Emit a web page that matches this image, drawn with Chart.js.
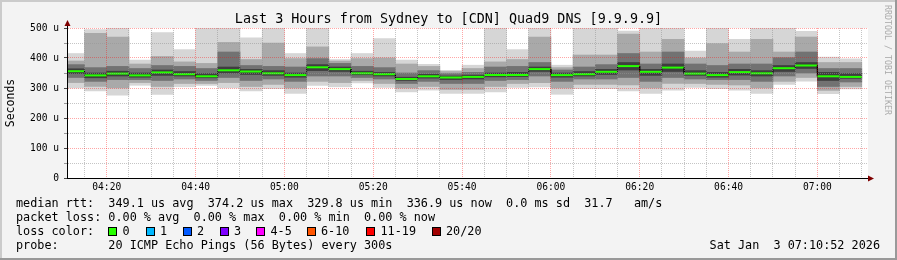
<!DOCTYPE html>
<html>
<head>
<meta charset="utf-8">
<title>Last 3 Hours from Sydney to [CDN] Quad9 DNS [9.9.9.9]</title>
<script src="https://cdn.jsdelivr.net/npm/chart.js@4.4.1/dist/chart.umd.min.js"></script>
<style>
  html, body { margin: 0; padding: 0; background: #f3f3f3; }
  #wrap { position: relative; width: 897px; height: 260px; overflow: hidden; }
  #chart { position: absolute; left: 0; top: 0; }
  .txt { position: absolute; font-family: 'DejaVu Sans Mono', monospace; color: #000; white-space: pre; }
  #title { left: 0; width: 897px; text-align: center; top: 12px; font-size: 13.4px; line-height: 14px; }
  #stats { left: 16px; top: 196px; font-size: 11.8px; line-height: 14px; }
  #stamp { right: 17px; top: 238px; font-size: 11.8px; line-height: 14px; }
  .loss { position: absolute; top: 224px; font-family: 'DejaVu Sans Mono', monospace; font-size: 11.8px; line-height: 14px; white-space: pre; }
  .loss i { display: inline-block; width: 7px; height: 7px; border: 1px solid #000; margin-right: 5.5px; vertical-align: -1px; }
  #mark { left: 892px; top: 5px; font-size: 8.3px; line-height: 9px; color: #ababab; transform-origin: 0 0; transform: rotate(90deg); }
</style>
</head>
<body>
<div id="wrap">
  <canvas id="chart" width="897" height="260"></canvas>
  <div class="txt" id="title">Last 3 Hours from Sydney to [CDN] Quad9 DNS [9.9.9.9]</div>
  <div class="txt" id="stats">median rtt:  349.1 us avg  374.2 us max  329.8 us min  336.9 us now  0.0 ms sd  31.7   am/s
packet loss: 0.00 % avg  0.00 % max  0.00 % min  0.00 % now
loss color:
probe:       20 ICMP Echo Pings (56 Bytes) every 300s</div>
  <div class="txt" id="stamp">Sat Jan  3 07:10:52 2026</div>
  <div class="txt" id="mark">RRDTOOL / TOBI OETIKER</div>
</div>
<script>
// 5-minute slots (start time of each step)
const slots = ['04:10', '04:15', '04:20', '04:25', '04:30', '04:35', '04:40', '04:45', '04:50', '04:55',
  '05:00', '05:05', '05:10', '05:15', '05:20', '05:25', '05:30', '05:35', '05:40', '05:45', '05:50', '05:55',
  '06:00', '06:05', '06:10', '06:15', '06:20', '06:25', '06:30', '06:35', '06:40', '06:45', '06:50', '06:55',
  '07:00', '07:05'];

// rtt in microseconds
const rttMin = [300, 290, 276, 309, 279, 304, 309, 300, 290, 298, 282, 309, 304, 317, 302, 287, 293, 282,
  282, 287, 302, 304, 279, 298, 298, 290, 282, 293, 302, 298, 293, 282, 312, 323, 281, 297];
const rttP10 = [318, 305, 300, 318, 305, 315, 315, 318, 305, 312, 300, 322, 318, 325, 315, 300, 305, 295,
  295, 305, 315, 318, 300, 312, 312, 310, 300, 315, 315, 312, 310, 300, 322, 335, 292, 305];
const rttP25 = [335, 322, 328, 328, 325, 330, 325, 335, 325, 330, 322, 340, 340, 335, 330, 315, 322, 315,
  315, 325, 328, 340, 322, 330, 330, 335, 322, 335, 330, 328, 328, 322, 340, 350, 305, 320];
const rttP40 = [348, 334, 340, 336, 342, 340, 334, 350, 345, 342, 336, 358, 355, 344, 340, 325, 333, 328,
  330, 337, 338, 355, 336, 340, 345, 360, 342, 355, 342, 336, 343, 340, 355, 365, 325, 332];
const rttMedian = [356, 342, 348, 342, 352, 346, 339, 359, 355, 349, 343, 369, 363, 349, 346, 330, 339, 335,
  337, 343, 343, 363, 343, 346, 354, 373, 354, 368, 348, 343, 353, 349, 366, 375, 339, 337];
const rttP60 = [364, 350, 356, 350, 360, 355, 348, 370, 362, 358, 350, 378, 370, 356, 352, 336, 346, 340,
  343, 350, 352, 370, 350, 355, 362, 385, 362, 380, 358, 352, 362, 358, 375, 385, 352, 348];
const rttP75 = [378, 368, 372, 365, 375, 372, 365, 420, 375, 372, 370, 398, 382, 372, 368, 350, 358, 348,
  352, 370, 372, 385, 360, 370, 378, 415, 380, 420, 380, 375, 380, 380, 401, 420, 365, 365];
const rttP90 = [390, 482, 470, 380, 405, 387, 382, 452, 395, 450, 398, 437, 390, 398, 400, 380, 372, 355,
  365, 387, 395, 470, 368, 410, 410, 480, 420, 462, 400, 448, 420, 462, 420, 470, 385, 385];
const rttMax = [415, 495, 500, 393, 485, 428, 500, 500, 467, 500, 415, 500, 395, 415, 465, 393, 379, 359,
  376, 500, 428, 500, 376, 500, 500, 490, 500, 500, 423, 500, 462, 500, 500, 489, 403, 397];

const xTickLabels = ['04:20', '04:40', '05:00', '05:20', '05:40', '06:00', '06:20', '06:40', '07:00'];
const yTickLabels = ['0', '100 u', '200 u', '300 u', '400 u', '500 u'];

const lossLabels = ['0', '1', '2', '3', '4-5', '6-10', '11-19', '20/20'];
const lossColors = ['#26ff00', '#00b8ff', '#0059ff', '#7e00ff', '#ff00ff', '#ff5500', '#ff0000', '#a10000'];
const lossBoxX = [108, 145.5, 182.5, 219.5, 256, 306.5, 366, 431.5];

function toMin(t) {
    const p = t.split(':');
    return parseInt(p[0]) * 60 + parseInt(p[1]);
}
function fmtMin(v) {
    const h = Math.floor(v / 60), m = v % 60;
    return String(h).padStart(2, '0') + ':' + String(m).padStart(2, '0');
}

const STEP = 5;
const centers = slots.map(s => toMin(s) + STEP / 2);

function band(lo, hi) {
    return centers.map((c, i) => ({ x: c, y: [lo[i], hi[i]] }));
}

// median as a step line: one point at each edge of a slot
const medianPts = [];
slots.forEach((s, i) => {
    medianPts.push({ x: toMin(s), y: rttMedian[i] });
    medianPts.push({ x: toMin(s) + STEP, y: rttMedian[i] });
});

// legend boxes for loss colours
lossLabels.forEach((lab, i) => {
    const d = document.createElement('div');
    d.className = 'loss';
    d.style.left = lossBoxX[i] + 'px';
    d.innerHTML = '<i style="background:' + lossColors[i] + '"></i>' + lab;
    document.getElementById('wrap').appendChild(d);
});

const backdrop = {
    id: 'backdrop',
    beforeDraw(chart) {
        const ctx = chart.ctx, a = chart.chartArea;
        ctx.save();
        ctx.fillStyle = '#f3f3f3';
        ctx.fillRect(0, 0, chart.width, chart.height);
        ctx.fillStyle = '#cbcbcb';
        ctx.fillRect(0, 0, chart.width, 2);
        ctx.fillRect(0, 0, 2, chart.height);
        ctx.fillStyle = '#999999';
        ctx.fillRect(0, chart.height - 2, chart.width, 2);
        ctx.fillRect(chart.width - 2, 0, 2, chart.height);
        ctx.fillStyle = '#ffffff';
        ctx.fillRect(a.left, a.top, a.right - a.left, a.bottom - a.top);
        ctx.restore();
    },
    afterDraw(chart) {
        const ctx = chart.ctx, a = chart.chartArea;
        const x0 = Math.round(a.left) + 0.5, y0 = Math.round(a.bottom) + 0.5;
        ctx.save();
        ctx.strokeStyle = '#000';
        ctx.lineWidth = 1;
        ctx.beginPath();
        ctx.moveTo(x0, a.top);
        ctx.lineTo(x0, a.top - 3);
        ctx.moveTo(a.right, y0);
        ctx.lineTo(a.right + 1, y0);
        ctx.stroke();
        ctx.fillStyle = '#7f0000';
        ctx.beginPath();
        ctx.moveTo(x0, a.top - 8);
        ctx.lineTo(x0 - 3, a.top - 2);
        ctx.lineTo(x0 + 3, a.top - 2);
        ctx.closePath();
        ctx.fill();
        ctx.beginPath();
        ctx.moveTo(a.right + 6, y0);
        ctx.lineTo(a.right, y0 - 3);
        ctx.lineTo(a.right, y0 + 3);
        ctx.closePath();
        ctx.fill();
        ctx.restore();
    }
};

Chart.defaults.font.family = "'DejaVu Sans Mono', monospace";
Chart.defaults.color = '#000';

const smoke = (label, lo, hi, color, order) => ({
    type: 'bar',
    label: label,
    data: band(lo, hi),
    backgroundColor: color,
    borderWidth: 0,
    grouped: false,
    barPercentage: 1,
    categoryPercentage: 1,
    clip: 0,
    order: order
});

new Chart(document.getElementById('chart'), {
    type: 'bar',
    data: {
        datasets: [
            {
                type: 'line',
                label: 'median',
                data: medianPts,
                borderColor: '#26ff00',
                borderWidth: 2,
                pointRadius: 0,
                tension: 0,
                clip: 0,
                order: 0,
                segment: {
                    borderColor: c => c.p0.parsed.y !== c.p1.parsed.y ? 'rgba(0,0,0,0.75)' : undefined,
                    borderWidth: c => c.p0.parsed.y !== c.p1.parsed.y ? 1 : undefined
                }
            },
            smoke('p40-p60', rttP40, rttP60, '#3e3e3e', 1),
            smoke('p25-p75', rttP25, rttP75, '#727272', 2),
            smoke('p10-p90', rttP10, rttP90, '#a9a9a9', 3),
            smoke('min-max', rttMin, rttMax, '#d6d6d6', 4)
        ]
    },
    options: {
        responsive: false,
        animation: false,
        devicePixelRatio: 1,
        layout: { padding: { left: 0, top: 28, right: 29, bottom: 0 } },
        plugins: {
            legend: { display: false },
            tooltip: { enabled: false }
        },
        scales: {
            x: {
                type: 'linear',
                min: 251.05,
                max: 431.4,
                offset: false,
                afterFit: s => { s.height = 82; },
                afterBuildTicks: s => {
                    const t = [];
                    for (let v = 255; v <= 430; v += STEP) t.push({ value: v });
                    s.ticks = t;
                },
                ticks: {
                    autoSkip: false,
                    maxRotation: 0,
                    padding: 4,
                    font: { size: 9.6 },
                    callback: v => xTickLabels.includes(fmtMin(v)) ? fmtMin(v) : ''
                },
                grid: {
                    offset: false,
                    z: 1,
                    drawTicks: false,
                    color: c => c.tick && c.tick.value % 20 === 0 ? 'rgba(255,0,0,0.35)' : 'rgba(150,150,150,0.55)'
                },
                border: { color: '#000', width: 1, dash: [1, 1], z: 2 }
            },
            y: {
                min: 0,
                max: 500,
                stacked: false,
                afterFit: s => { s.width = 67; },
                afterBuildTicks: s => {
                    const t = [];
                    for (let v = 0; v <= 500; v += 25) t.push({ value: v });
                    s.ticks = t;
                },
                ticks: {
                    padding: 5,
                    font: { size: 9.6 },
                    callback: v => v % 100 === 0 ? yTickLabels[v / 100] : ''
                },
                grid: {
                    z: 1,
                    tickLength: 3,
                    tickColor: c => c.tick && c.tick.value % 100 === 0 ? '#444' : '#999',
                    color: c => c.tick && c.tick.value % 100 === 0 ? 'rgba(255,0,0,0.35)' : 'rgba(150,150,150,0.55)'
                },
                border: { color: '#000', width: 1, dash: [1, 1], z: 2 },
                title: {
                    display: true,
                    text: 'Seconds',
                    font: { size: 11.5 },
                    padding: { top: 4, bottom: 0 }
                }
            }
        }
    },
    plugins: [backdrop]
});
</script>
</body>
</html>
